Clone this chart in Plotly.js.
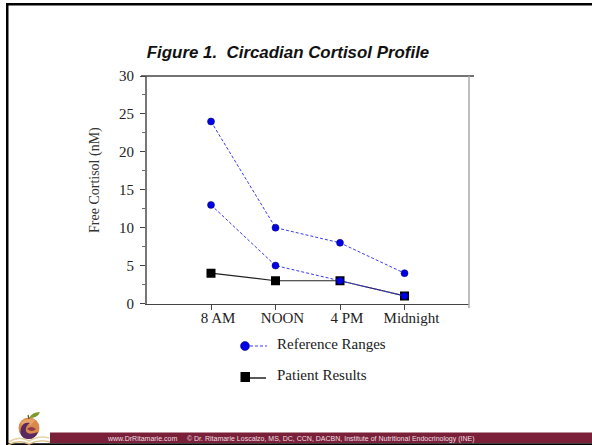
<!DOCTYPE html>
<html>
<head>
<meta charset="utf-8">
<script src="https://cdn.plot.ly/plotly-3.0.1.min.js"></script>
<style>html,body{margin:0;padding:0;background:#fff;overflow:hidden}#chart{width:592px;height:445px}</style>
</head>
<body>
<div id="chart"></div>
<script>
const categories = ['8 AM', 'NOON', '4 PM', 'Midnight'];
const referenceUpper = [24, 10, 8, 4];
const referenceLower = [13, 5, 3, 1];
const patientResults = [4, 3, 3, 1];
const yTickValues = [0, 5, 10, 15, 20, 25, 30];

const W = 592, H = 445;
const px = x => x / W;
const py = y => 1 - y / H;
const serif = '"Liberation Serif", serif';
const sans = '"Liberation Sans", Arial, sans-serif';
const BLUE = '#0000e6', LINEBLUE = '#3a3af5', DARK = '#222222';

const logoSvg = `<svg xmlns="http://www.w3.org/2000/svg" width="48" height="37" viewBox="0 0 48 37">
<defs><filter id="b"><feGaussianBlur stdDeviation="0.45"/></filter></defs>
<g filter="url(#b)">
<path d="M4 34 Q14 27 24 33 Q34 27 44 30" fill="none" stroke="#e7d3a6" stroke-width="1.6"/>
<path d="M3 37 Q14 31 24 36 Q34 31 45 34" fill="none" stroke="#d9bd85" stroke-width="1.4"/>
<circle cx="24" cy="20" r="10.5" fill="#d98a4b"/>
<path d="M16 14 Q22 9 30 12 L26 17 Q20 15 18 23 Z" fill="#e8a468"/>
<path d="M33 24 Q30 32 22 31 Q13 29 16 20 Q18 14 25 15 Q20 18 21 23 Q23 28 33 24 Z" fill="#5a2a5e"/>
<path d="M22 21 Q26 17 31 21 Q27 25 22 21 Z" fill="#8c3b4a"/>
<path d="M24 10 Q27 4 35 4 Q33 10 24 10 Z" fill="#7c9a2e"/>
<path d="M24 11 L23 7" stroke="#6b4a22" stroke-width="1.2"/>
</g></svg>`;

const traces = [
  { x: categories, y: patientResults, name: 'Patient Results', mode: 'lines+markers',
    line: { color: DARK, width: 1.2 },
    marker: { symbol: 'square', color: '#000000', size: 9 } },
  { x: categories, y: referenceUpper, name: 'Reference Ranges', mode: 'lines+markers',
    line: { color: LINEBLUE, width: 1, dash: '3px,2px' },
    marker: { symbol: 'circle', color: BLUE, size: 7, line: { color: '#000060', width: 0.5 } } },
  { x: categories, y: referenceLower, name: 'Reference Ranges (lower)', mode: 'lines+markers',
    line: { color: LINEBLUE, width: 1, dash: '3px,2px' },
    marker: { symbol: 'circle', color: BLUE, size: 7, line: { color: '#000060', width: 0.5 } } }
];

const annText = (text, x, y, size, extra) => Object.assign({
  text, xref: 'paper', yref: 'paper', x: px(x), y: py(y), showarrow: false,
  xanchor: 'left', yanchor: 'middle', font: { family: serif, size, color: '#1a1a1a' }
}, extra || {});

const layout = {
  width: W, height: H, showlegend: false,
  margin: { l: 0, r: 0, t: 0, b: 0, pad: 0 },
  paper_bgcolor: '#ffffff', plot_bgcolor: '#ffffff',
  font: { family: serif, size: 15, color: '#222' },
  title: { text: '<b><i>Figure 1.  Circadian Cortisol Profile</i></b>',
    x: px(288), xanchor: 'center', xref: 'paper', y: py(52), yanchor: 'middle', yref: 'paper',
    font: { family: sans, size: 16.9, color: '#111' } },
  xaxis: { domain: [px(146.5), px(469)], type: 'category', categoryorder: 'array', categoryarray: categories,
    range: [-1, 4], showgrid: false, zeroline: false, showline: true, linecolor: '#444', linewidth: 1.5,
    ticks: 'outside', ticklen: 5, tickwidth: 1, tickcolor: '#444',
    ticklabelshift: 7, ticklabelstandoff: -5,
    tickfont: { family: serif, size: 15, color: '#222' } },
  yaxis: { domain: [py(303.5), py(76)], range: [0, 30], tickvals: yTickValues, showgrid: false, zeroline: false,
    showline: true, linecolor: '#777', linewidth: 1.5,
    ticks: 'outside', ticklen: 5, tickwidth: 1, tickcolor: '#444', ticklabelstandoff: 3,
    minor: { dtick: 2.5, ticks: 'outside', ticklen: 3, tickwidth: 1, tickcolor: '#666', showgrid: false },
    tickfont: { family: serif, size: 15, color: '#222' } },
  shapes: [
    // slide frame and footer bar
    { type: 'rect', xref: 'paper', yref: 'paper', x0: px(6), x1: px(8.5), y0: py(445), y1: py(3), fillcolor: '#000', line: { width: 0 }, layer: 'below' },
    { type: 'rect', xref: 'paper', yref: 'paper', x0: px(6), x1: px(592), y0: py(5.5), y1: py(3), fillcolor: '#000', line: { width: 0 }, layer: 'below' },
    { type: 'rect', xref: 'paper', yref: 'paper', x0: px(50), x1: px(592), y0: py(443), y1: py(432.5), fillcolor: '#7a2139', line: { width: 0 }, layer: 'below' },
    { type: 'rect', xref: 'paper', yref: 'paper', x0: px(6), x1: px(592), y0: py(445), y1: py(443.3), fillcolor: '#000', line: { width: 0 }, layer: 'below' },
    // chart frame: top rule, right rule, end tick
    { type: 'line', xref: 'paper', yref: 'paper', x0: px(141), x1: px(474), y0: py(76), y1: py(76), line: { color: '#444', width: 1.3 } },
    { type: 'line', xref: 'paper', yref: 'paper', x0: px(469), x1: px(469), y0: py(76), y1: py(308), line: { color: '#aaa', width: 1.5 } },
    // legend keys
    { type: 'line', xref: 'paper', yref: 'paper', x0: px(245), x1: px(267), y0: py(346), y1: py(346), line: { color: LINEBLUE, width: 1.2, dash: '3px,2px' } },
    { type: 'circle', xref: 'paper', yref: 'paper', x0: px(240.5), x1: px(249.5), y0: py(350.5), y1: py(341.5), fillcolor: BLUE, line: { color: '#000060', width: 0.5 } },
    { type: 'line', xref: 'paper', yref: 'paper', x0: px(245), x1: px(266), y0: py(378), y1: py(378), line: { color: DARK, width: 1.5 } },
    { type: 'rect', xref: 'paper', yref: 'paper', x0: px(240.5), x1: px(250), y0: py(382), y1: py(372), fillcolor: '#000', line: { width: 0 } }
  ],
  annotations: [
    annText('Reference Ranges', 275, 344, 15),
    annText('Patient Results', 275, 375, 15),
    annText('Free Cortisol (nM)', 95, 180, 14, { textangle: -90, xanchor: 'center', font: { family: serif, size: 14, color: '#333' } }),
    { text: 'www.DrRitamarie.com &nbsp;&nbsp;&nbsp; © Dr. Ritamarie Loscalzo, MS, DC, CCN, DACBN, Institute of Nutritional Endocrinology (INE)',
      xref: 'paper', yref: 'paper', x: px(105), y: py(439), xanchor: 'left', yanchor: 'middle', showarrow: false,
      font: { family: sans, size: 7, color: '#eedfe3' } }
  ],
  images: [
    { source: 'data:image/svg+xml;utf8,' + encodeURIComponent(logoSvg), xref: 'paper', yref: 'paper',
      x: px(5), y: py(408), sizex: 48 / W, sizey: 37 / H, xanchor: 'left', yanchor: 'top', sizing: 'stretch', layer: 'above' }
  ]
};

Plotly.newPlot('chart', traces, layout, { displayModeBar: false, staticPlot: true });
</script>
</body>
</html>
